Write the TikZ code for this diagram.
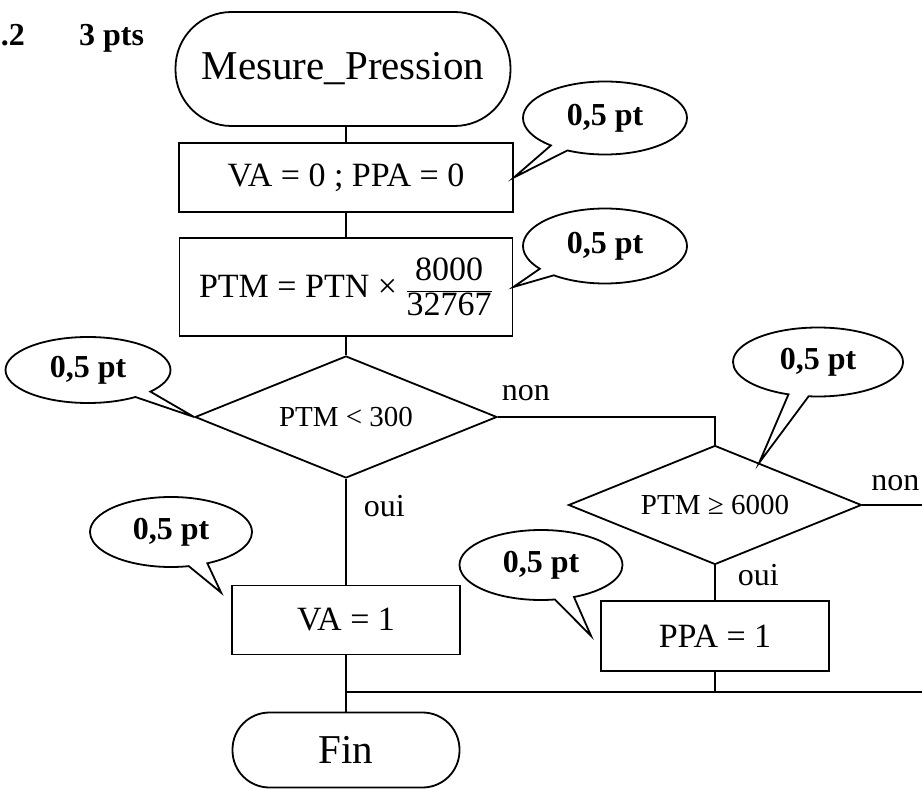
\documentclass[tikz,border=0pt]{standalone}
\usepackage{fontspec}
\setmainfont{Liberation Serif}
\usetikzlibrary{shapes.geometric}
\usetikzlibrary{shapes.callouts}
\usetikzlibrary{calc}

\tikzset{
  titre/.style={font=\bfseries\fontsize{32}{38}\selectfont, inner sep=0pt},
  terminal/.style={draw, rectangle, inner sep=0pt, font=\fontsize{41}{47}\selectfont},
  action/.style={draw, rectangle, inner sep=0pt, font=\fontsize{34}{40}\selectfont},
  test/.style={draw, diamond, inner sep=0pt, shape aspect=2.5, font=\fontsize{29}{34}\selectfont},
  legende/.style={inner sep=0pt, font=\fontsize{32}{38}\selectfont},
  bulle/.style={draw, ellipse callout, inner sep=0pt, callout pointer arc=14,
                font=\bfseries\fontsize{32}{38}\selectfont},
}

\begin{document}
\begin{tikzpicture}[x=1pt, y=-1pt, line width=1.8pt]
            \useasboundingbox (0,0) rectangle (922,789);

            % header
            \node[titre, anchor=base west] (numero) at (0,46) {.2};
            \node[titre, anchor=base east] (points) at (145,46) {3 pts};

            % draw blocks of the flowchart
            \node[terminal, minimum width=335pt, minimum height=114pt, rounded corners=56pt] (debut) at (343,69) {Mesure\_Pression};
            \node[action, minimum width=334pt, minimum height=69pt] (init) at (346,177.5) {VA = 0 ; PPA = 0};
            \node[action, minimum width=333pt, minimum height=98pt] (calcul) at (346,287)
                 {PTM = PTN × $\displaystyle\frac{\mbox{8000}}{\mbox{32767}}$};
            \node[test, minimum width=302pt, minimum height=122pt] (test1) at (346,417) {PTM < 300};
            \node[test, minimum width=293pt, minimum height=119pt] (test2) at (715,505) {PTM ≥ 6000};
            \node[action, minimum width=228pt, minimum height=69pt] (va) at (346,620) {VA = 1};
            \node[action, minimum width=228pt, minimum height=70pt] (ppa) at (715,636) {PPA = 1};
            \node[terminal, minimum width=227pt, minimum height=75pt, rounded corners=37pt] (fin) at (346,750) {Fin};

            \coordinate (jonction) at (346,692);
            \coordinate (droite) at (922,692);
            \coordinate (sortie) at (922,505);

            % draw links
            \draw (debut.south -| init.north) -- (init);
            \draw (init) -- (calcul);
            \draw (calcul) -- (test1);
            \draw (test1.east) -- (test1.east -| test2.north) -- (test2.north);
            \draw (test1) -- (va);
            \draw (va) -- (fin);
            \draw (test2) -- (ppa);
            \draw (ppa.south) -- (ppa.south |- jonction);
            \draw (jonction) -- (droite);
            \draw (test2.east) -- (sortie);

            % answers
            \node[legende, anchor=base west] (non1) at ($(test1.east)+(3,-17)$) {non};
            \node[legende, anchor=base west] (oui1) at ($(test1.south)+(17,38)$) {oui};
            \node[legende, anchor=base west] (non2) at ($(test2.east)+(8,-15)$) {non};
            \node[legende, anchor=base west] (oui2) at ($(test2.south)+(22,20)$) {oui};

            % draw marks
            \node[bulle, minimum width=164pt, minimum height=73pt, callout absolute pointer={(init.east)}] (b1) at (605,118) {0,5 pt};
            \node[bulle, minimum width=164pt, minimum height=75pt, callout absolute pointer={(calcul.east)}] (b2) at (605,246) {0,5 pt};
            \node[bulle, minimum width=165pt, minimum height=66pt, callout absolute pointer={(test1.west)}] (b3) at (88,370) {0,5 pt};
            \node[bulle, minimum width=170pt, minimum height=69pt, callout absolute pointer={($(test2.north)!0.3!(test2.east)$)}] (b4) at (818,362) {0,5 pt};
            \node[bulle, minimum width=162pt, minimum height=70pt, callout absolute pointer={([xshift=-10pt,yshift=-8pt]va.north west)}] (b5) at (171,532) {0,5 pt};
            \node[bulle, minimum width=163pt, minimum height=70pt, callout absolute pointer={([xshift=-9pt]ppa.west)}] (b6) at (541,565) {0,5 pt};
\end{tikzpicture}
\end{document}
